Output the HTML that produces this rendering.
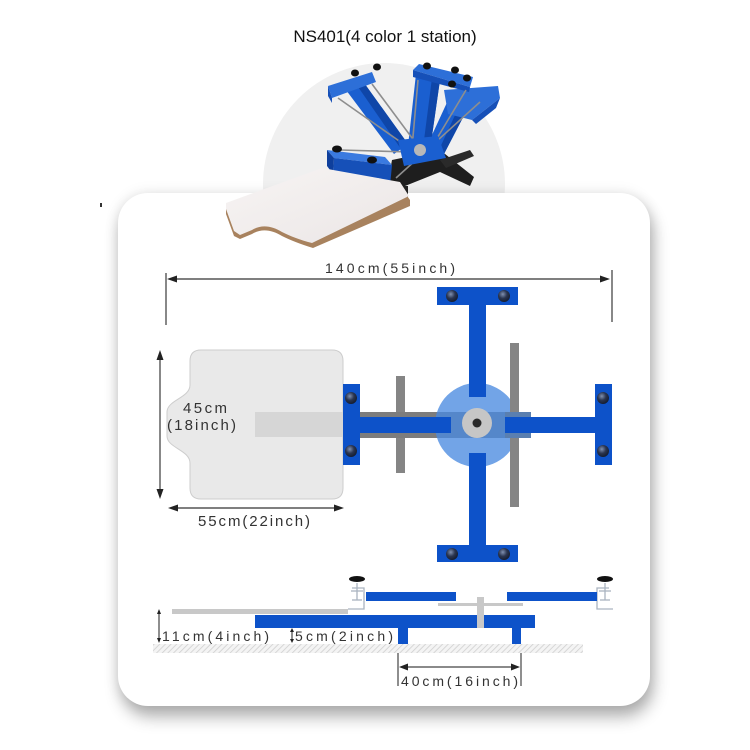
<!DOCTYPE html>
<html><head><meta charset="utf-8">
<style>
html,body{margin:0;padding:0;background:#fff;width:750px;height:750px;overflow:hidden;}
body{position:relative;}
.circ{position:absolute;left:263px;top:63px;width:242px;height:242px;border-radius:50%;background:#f0f0f0;}
.card{position:absolute;left:118px;top:193px;width:532px;height:513px;border-radius:30px;background:#fff;box-shadow:3px 11px 16px rgba(0,0,0,0.30),0 0 14px rgba(0,0,0,0.10);}
svg{position:absolute;left:0;top:0;}
</style></head><body>
<div class="circ"></div>
<div class="card"></div>
<svg width="750" height="750" viewBox="0 0 750 750" xmlns="http://www.w3.org/2000/svg">
<defs>
<radialGradient id="bolt" cx="0.4" cy="0.35" r="0.7">
<stop offset="0" stop-color="#8090b0"/><stop offset="0.5" stop-color="#2a3550"/><stop offset="1" stop-color="#121a2c"/>
</radialGradient>
<pattern id="hatch" width="4" height="4" patternUnits="userSpaceOnUse" patternTransform="rotate(45)">
<rect width="4" height="4" fill="#f4f4f4"/><line x1="0" y1="0" x2="0" y2="4" stroke="#cfcfcf" stroke-width="1.6"/>
</pattern>
<linearGradient id="board" x1="0" y1="0" x2="1" y2="1">
<stop offset="0" stop-color="#f7f4f3"/><stop offset="1" stop-color="#ebe6e6"/>
</linearGradient>
</defs>

<text x="385" y="42" text-anchor="middle" font-family="Liberation Sans, Arial, sans-serif" font-size="17" fill="#111">NS401(4 color 1 station)</text>

<rect x="100" y="203" width="2" height="4" fill="#333"/>

<!-- ===== machine photo ===== -->
<g>
<!-- black squeegee base -->
<polygon points="392,160 440,150 474,177 470,186 440,172 400,188 388,182" fill="#1e1e1e"/>
<polygon points="440,160 470,150 474,156 446,168" fill="#2a2a2a"/>
<!-- right arm -->
<polygon points="450,96 470,104 444,154 426,148" fill="#1a5fd0"/>
<polygon points="462,100 470,104 444,154 438,152" fill="#0f46a8"/>
<polygon points="444,90 498,86 500,98 472,120 448,114" fill="#2d6fd8"/>
<polygon points="472,120 500,98 496,108 476,124" fill="#1650b8"/>
<!-- middle arm -->
<polygon points="416,74 440,80 430,150 408,146" fill="#1a5fd0"/>
<polygon points="432,78 440,80 430,150 423,148" fill="#0f46a8"/>
<polygon points="413,70 419,64 473,77 470,87" fill="#2d6fd8"/>
<polygon points="413,70 470,87 469,92 413,77" fill="#1650b8"/>
<!-- left arm -->
<polygon points="346,90 362,80 408,144 394,154" fill="#1a5fd0"/>
<polygon points="356,84 362,80 408,144 401,149" fill="#0f46a8"/>
<polygon points="328,86 372,72 376,82 332,98" fill="#2d6fd8"/>
<polygon points="328,86 332,98 332,103 328,96" fill="#1650b8"/>
<!-- rods -->
<g stroke="#8e8e8e" stroke-width="1.6">
<line x1="338" y1="98" x2="412" y2="150"/>
<line x1="372" y1="84" x2="418" y2="146"/>
<line x1="418" y1="80" x2="412" y2="148"/>
<line x1="466" y1="90" x2="430" y2="150"/>
<line x1="480" y1="102" x2="396" y2="178"/>
<line x1="340" y1="150" x2="410" y2="152"/>
</g>
<!-- hub -->
<polygon points="398,140 438,136 446,158 404,166" fill="#1a5fd0"/>
<circle cx="420" cy="150" r="6" fill="#b8b8b8"/>
<!-- base block -->
<polygon points="327,150 385,157 392,165 334,158" fill="#3a7ae0"/>
<polygon points="334,158 392,165 390,186 333,174" fill="#1650b8"/>
<polygon points="327,150 334,158 333,174 327,166" fill="#0e3f9c"/>
<!-- knobs -->
<g fill="#111">
<ellipse cx="355" cy="73" rx="4" ry="3.5"/>
<ellipse cx="377" cy="67" rx="4" ry="3.5"/>
<ellipse cx="427" cy="66" rx="4" ry="3.5"/>
<ellipse cx="455" cy="70" rx="4" ry="3.5"/>
<ellipse cx="467" cy="78" rx="4" ry="3.5"/>
<ellipse cx="452" cy="84" rx="4" ry="3.5"/>
<ellipse cx="337" cy="149" rx="5" ry="3.5"/>
<ellipse cx="372" cy="160" rx="5" ry="3.5"/>
</g>
<g stroke="#aaa" stroke-width="1.5">
<line x1="339" y1="172" x2="339" y2="184"/>
<line x1="346" y1="174" x2="346" y2="184"/>
<line x1="372" y1="177" x2="372" y2="190"/>
<line x1="378" y1="178" x2="378" y2="190"/>
</g>
<rect x="400" y="186" width="8" height="14" fill="#222"/>
<!-- board -->
<path d="M226,208 L322,172 L400,186 L410,200 L410,206 L313,248 C300,244 290,240 282,236 C272,230 262,228 252,234 L240,239 L234,236 L226,214 Z" fill="#a8825e"/>
<path d="M226,203 L322,168 L400,182 L409,196 L312,243 C300,240 290,236 282,232 C272,226 262,224 252,230 L240,235 L234,231 L226,209 Z" fill="url(#board)"/>
</g>

<!-- ===== top view ===== -->
<g stroke="#555" stroke-width="1.4">
<line x1="166" y1="273" x2="166" y2="325"/>
<line x1="612" y1="270" x2="612" y2="322"/>
<line x1="172" y1="279" x2="604" y2="279"/>
<line x1="160" y1="358" x2="160" y2="492"/>
<line x1="174" y1="508" x2="338" y2="508"/>
</g>
<g fill="#222">
<polygon points="167,279 177,275.5 177,282.5"/>
<polygon points="610,279 600,275.5 600,282.5"/>
<polygon points="160,350 156.5,360 163.5,360"/>
<polygon points="160,499 156.5,489 163.5,489"/>
<polygon points="168,508 178,504.5 178,511.5"/>
<polygon points="344,508 334,504.5 334,511.5"/>
</g>
<g font-family="Liberation Sans, Arial, sans-serif" fill="#333">
<text x="325" y="273" font-size="14" textLength="130" lengthAdjust="spacing">140cm(55inch)</text>
<text x="198" y="526" font-size="15" textLength="112" lengthAdjust="spacing">55cm(22inch)</text>
</g>

<!-- platen -->
<path d="M201,350 H332 Q343,350 343,361 V488 Q343,499 332,499 H201 Q190,499 190,488 V463 C190,450 167,448 167,436 V412 C167,400 190,398 190,385 V361 Q190,350 201,350 Z" fill="#e9e9e9" stroke="#cdcdcd" stroke-width="1"/>
<rect x="255" y="412" width="88" height="25" fill="#d6d6d6"/>
<g font-family="Liberation Sans, Arial, sans-serif" fill="#333" font-size="15">
<text x="183" y="413" textLength="44" lengthAdjust="spacing">45cm</text>
<text x="167" y="430" textLength="69" lengthAdjust="spacing">(18inch)</text>
</g>

<!-- grey bars -->
<rect x="396" y="376" width="9" height="97" fill="#858585"/>
<rect x="360" y="412" width="171" height="26" fill="#7d7d7d"/>
<circle cx="477" cy="425" r="42" fill="#4a8ae0" opacity="0.78"/>
<rect x="510" y="343" width="9" height="164" fill="#858585"/>
<rect x="505" y="412" width="26" height="26" fill="#5a7fb0"/>

<!-- blue crosses -->
<g fill="#0d52c9">
<rect x="437" y="287" width="81" height="18"/>
<rect x="469" y="304" width="17" height="93"/>
<rect x="437" y="545" width="81" height="17"/>
<rect x="469" y="453" width="17" height="93"/>
<rect x="343" y="384" width="17" height="81"/>
<rect x="359" y="417" width="92" height="16"/>
<rect x="595" y="384" width="17" height="81"/>
<rect x="505" y="417" width="91" height="16"/>
</g>
<g fill="url(#bolt)">
<circle cx="452" cy="296" r="6"/><circle cx="504" cy="296" r="6"/>
<circle cx="452" cy="554" r="6"/><circle cx="504" cy="554" r="6"/>
<circle cx="351" cy="398" r="6"/><circle cx="351" cy="451" r="6"/>
<circle cx="603" cy="398" r="6"/><circle cx="603" cy="451" r="6"/>
</g>
<circle cx="477" cy="423" r="15" fill="#c6c6c6"/>
<circle cx="477" cy="423" r="4.5" fill="#2a2a2a"/>

<!-- ===== side view ===== -->
<rect x="153" y="644" width="430" height="9" fill="url(#hatch)"/>
<rect x="172" y="609" width="176" height="5" fill="#c8c8c8"/>
<g stroke="#aab4c0" stroke-width="1.3" fill="none">
<polyline points="348,609 364,609 364,588 352,588"/>
<line x1="357" y1="583" x2="357" y2="600"/>
<line x1="351" y1="591" x2="363" y2="591"/>
<line x1="352" y1="600" x2="362" y2="600"/>
<polyline points="613,609 597,609 597,588 609,588"/>
<line x1="605" y1="583" x2="605" y2="600"/>
<line x1="599" y1="591" x2="611" y2="591"/>
<line x1="600" y1="600" x2="610" y2="600"/>
</g>
<ellipse cx="357" cy="579" rx="8" ry="3" fill="#111"/>
<ellipse cx="605" cy="579" rx="8" ry="3" fill="#111"/>
<g fill="#0d52c9">
<rect x="366" y="592" width="90" height="9"/>
<rect x="507" y="592" width="90" height="9"/>
<rect x="255" y="615" width="280" height="13"/>
<rect x="398" y="627" width="10" height="17"/>
<rect x="512" y="627" width="9" height="17"/>
</g>
<rect x="438" y="603" width="85" height="3" fill="#c8c8c8"/>
<rect x="477" y="597" width="7" height="31" fill="#c8c8c8"/>

<g stroke="#444" stroke-width="1.2">
<line x1="159" y1="612" x2="159" y2="640"/>
<line x1="292" y1="631" x2="292" y2="640"/>
<line x1="398" y1="653" x2="398" y2="686"/>
<line x1="521" y1="653" x2="521" y2="686"/>
<line x1="404" y1="667" x2="515" y2="667"/>
</g>
<g fill="#222">
<polygon points="159,609 157,614 161,614"/>
<polygon points="159,643 157,638 161,638"/>
<polygon points="292,628 290,632 294,632"/>
<polygon points="292,643 290,639 294,639"/>
<polygon points="399,667 408,663.5 408,670.5"/>
<polygon points="520,667 511,663.5 511,670.5"/>
</g>
<g font-family="Liberation Sans, Arial, sans-serif" fill="#333" font-size="14">
<text x="162" y="641" textLength="107" lengthAdjust="spacing">11cm(4inch)</text>
<text x="295" y="641" textLength="98" lengthAdjust="spacing">5cm(2inch)</text>
<text x="401" y="686" textLength="117" lengthAdjust="spacing">40cm(16inch)</text>
</g>
</svg>
</body></html>
